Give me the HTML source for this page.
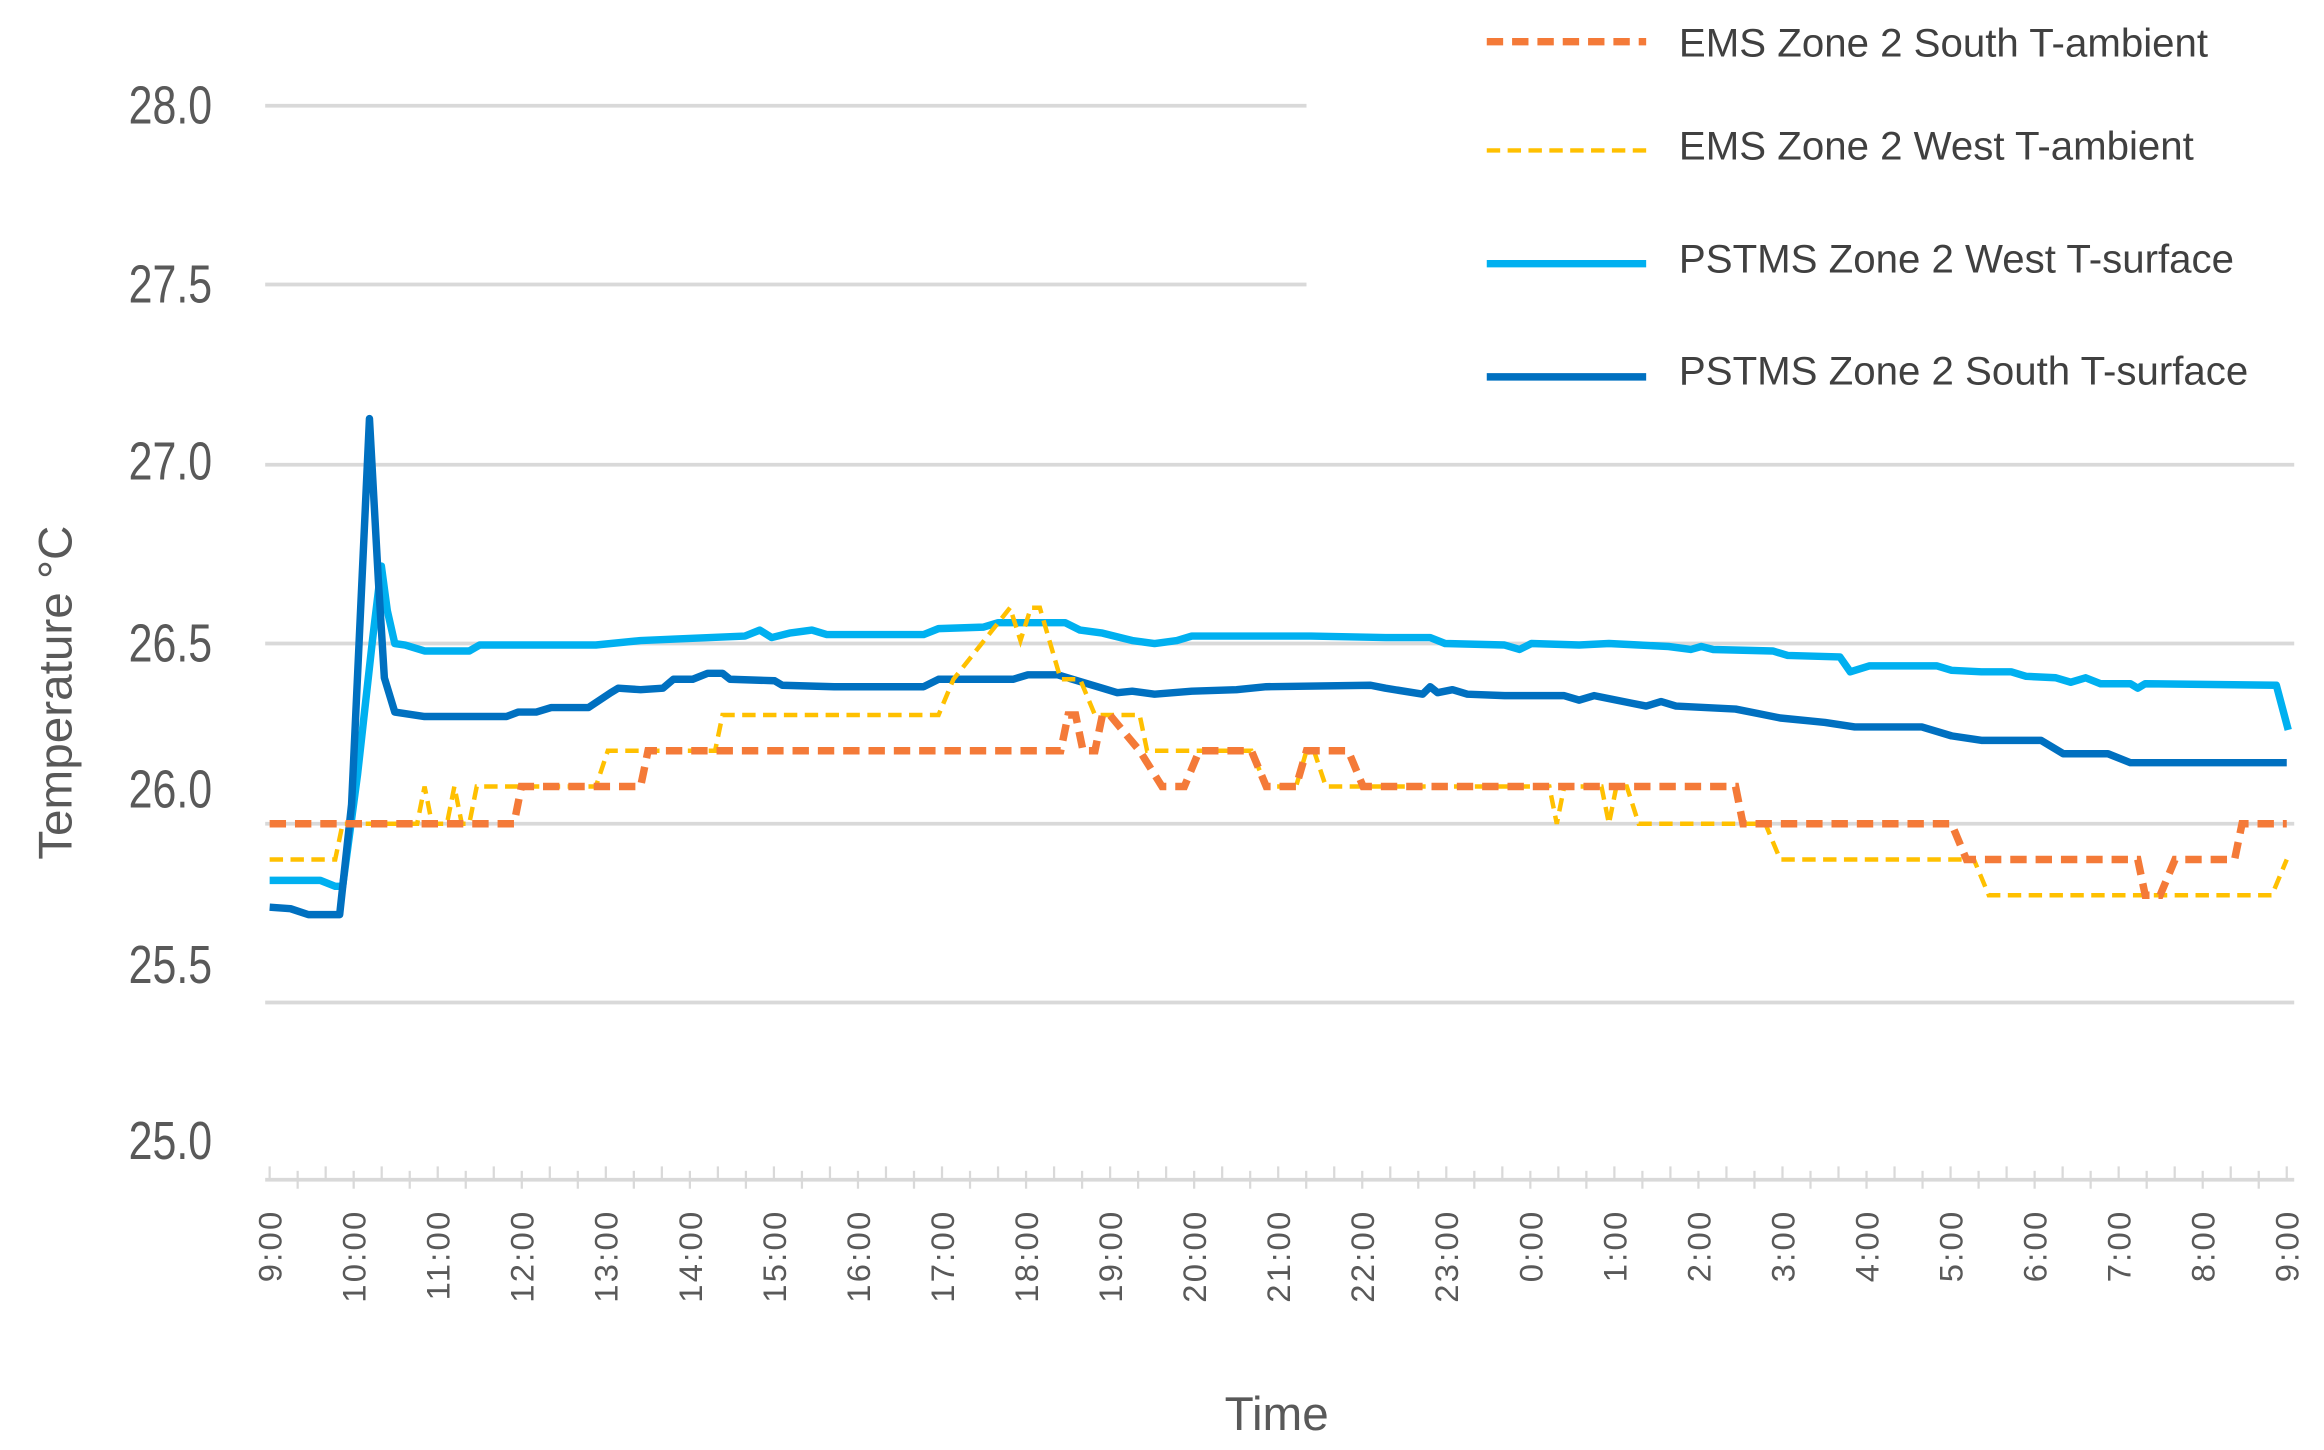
<!DOCTYPE html>
<html><head><meta charset="utf-8"><style>
html,body{margin:0;padding:0;background:#fff;}
svg{display:block;}
text{font-family:"Liberation Sans",sans-serif;fill:#595959;}
</style></head><body>
<svg width="2324" height="1450" viewBox="0 0 1560 973.4" preserveAspectRatio="none">
<g stroke="#d9d9d9" stroke-width="2.5">
<line x1="178" y1="71" x2="877" y2="71"/>
<line x1="178" y1="191" x2="877" y2="191"/>
<line x1="178" y1="312" x2="1540" y2="312"/>
<line x1="178" y1="432" x2="1540" y2="432"/>
<line x1="178" y1="553" x2="1540" y2="553"/>
<line x1="178" y1="673" x2="1540" y2="673"/>
<line x1="178" y1="792" x2="1540" y2="792"/>
</g>
<g id="ticks" stroke="#d9d9d9" stroke-width="1.5"></g>
<g font-size="36" text-anchor="end" transform="scale(0.8,1)">
<text x="178" y="83">28.0</text>
<text x="178" y="203">27.5</text>
<text x="178" y="322">27.0</text>
<text x="178" y="444">26.5</text>
<text x="178" y="542">26.0</text>
<text x="178" y="660">25.5</text>
<text x="178" y="778">25.0</text>
</g>
<g id="xl" font-size="22" text-anchor="end" letter-spacing="1.5"></g>
<text font-size="32" text-anchor="middle" transform="translate(48,465) rotate(-90)">Temperature °C</text>
<text font-size="32" text-anchor="middle" x="857" y="960">Time</text>

<polyline fill="none" stroke="#00b0f0" stroke-width="5" stroke-linejoin="round" points="181,591 215,591 225,595 230,595 240,520 250,430 256,380 260,410 265,432 272,433 285,437 315,437 322,433 400,433 430,430 500,427 510,423 518,428 530,425 545,423 555,426 620,426 630,422 660,421 670,418 715,418 725,423 740,425 760,430 775,432 790,430 800,427 880,427 930,428 960,428 970,432 1010,433 1020,436 1028,432 1060,433 1080,432 1100,433 1120,434 1135,436 1142,434 1150,436 1190,437 1200,440 1235,441 1242,451 1255,447 1300,447 1310,450 1330,451 1350,451 1360,454 1380,455 1390,458 1400,455 1410,459 1430,459 1435,462 1440,459 1528,460 1536,490"/>
<polyline fill="none" stroke="#0070c0" stroke-width="5" stroke-linejoin="round" points="181,609 195,610 207,614 228,614 236,540 248,281 254,390 258,455 265,478 285,481 340,481 348,478 360,478 370,475 395,475 410,465 415,462 430,463 445,462 452,456 465,456 475,452 485,452 490,456 520,457 525,460 560,461 620,461 630,456 680,456 690,453 710,453 720,456 740,462 750,465 760,464 775,466 800,464 830,463 850,461 920,460 930,462 955,466 960,461 965,465 975,463 985,466 1010,467 1050,467 1060,470 1070,467 1080,469 1095,472 1105,474 1115,471 1125,474 1165,476 1180,479 1195,482 1215,484 1225,485 1245,488 1290,488 1310,494 1330,497 1370,497 1385,506 1415,506 1430,512 1535,512"/>
<polyline fill="none" stroke="#ffc000" stroke-width="3" stroke-dasharray="9,5" points="181,577 225,577 230,553 280,553 285,528 290,553 300,553 305,528 310,553 315,553 320,528 400,528 408,504 480,504 485,480 630,480 640,456 678,408 685,430 692,408 698,408 712,456 725,456 735,480 765,480 770,504 840,504 850,528 870,528 877,504 882,504 890,528 1040,528 1045,553 1050,528 1075,528 1080,553 1085,528 1092,528 1100,553 1185,553 1195,577 1325,577 1335,601 1525,601 1535,577"/>
<polyline fill="none" stroke="#f47a38" stroke-width="5" stroke-dasharray="11,6" points="181,553 345,553 350,528 430,528 435,504 712,504 717,480 722,480 727,504 735,504 740,480 745,480 765,504 780,528 795,528 805,504 840,504 850,528 870,528 877,504 905,504 915,528 1165,528 1170,553 1310,553 1320,577 1435,577 1440,601 1450,601 1460,577 1500,577 1505,553 1535,553"/>

<g stroke-width="5" fill="none">
<line x1="998" y1="28" x2="1105" y2="28" stroke="#f47a38" stroke-dasharray="11,6"/>
<line x1="998" y1="101" x2="1105" y2="101" stroke="#ffc000" stroke-width="3" stroke-dasharray="9,5"/>
<line x1="998" y1="177" x2="1105" y2="177" stroke="#00b0f0"/>
<line x1="998" y1="253" x2="1105" y2="253" stroke="#0070c0"/>
</g>
<g font-size="27">
<text x="1127" y="38" style="fill:#404040">EMS Zone 2 South T-ambient</text>
<text x="1127" y="107" style="fill:#404040">EMS Zone 2 West T-ambient</text>
<text x="1127" y="183" style="fill:#404040">PSTMS Zone 2 West T-surface</text>
<text x="1127" y="258" style="fill:#404040">PSTMS Zone 2 South T-surface</text>
</g>
</svg>
<script>
var t=document.getElementById('ticks'),xl=document.getElementById('xl'),ns='http://www.w3.org/2000/svg';
for(var i=0;i<=72;i++){var x=181+i*(1354/72);var l=document.createElementNS(ns,'line');l.setAttribute('x1',x);l.setAttribute('x2',x);l.setAttribute('y1',i%2?786:783);l.setAttribute('y2',i%2?798:792);t.appendChild(l);}
for(var h=0;h<=24;h++){var x=181+h*(1354/24)+8;var s=((9+h)%24)+':00';var e=document.createElementNS(ns,'text');e.setAttribute('transform','translate('+x+',812) rotate(-90)');e.textContent=s;xl.appendChild(e);}
</script>
</body></html>
